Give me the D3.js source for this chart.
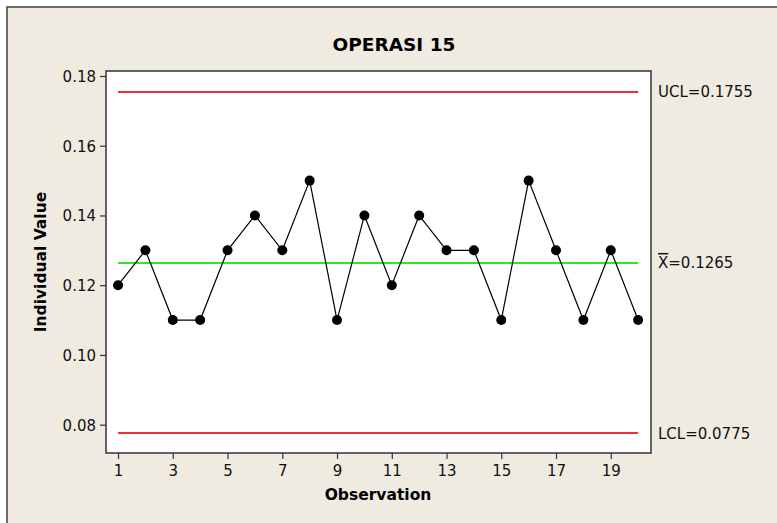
<!DOCTYPE html>
<html><head><meta charset="utf-8">
<script src="https://cdn.jsdelivr.net/npm/d3@7/dist/d3.min.js"></script>
<style>
html,body{margin:0;padding:0;background:#fff;}
svg{display:block;font-family:"DejaVu Sans",sans-serif;}
</style></head>
<body>
<svg id="c" width="777" height="523"></svg>
<script>
const observations = d3.range(1, 21);
const values = [0.12,0.13,0.11,0.11,0.13,0.14,0.13,0.15,0.11,0.14,0.12,0.14,0.13,0.13,0.11,0.15,0.13,0.11,0.13,0.11];
const xTicks = [1,3,5,7,9,11,13,15,17,19];
const yTicks = [0.08,0.10,0.12,0.14,0.16,0.18];
const UCL = 0.1755, CL = 0.1265, LCL = 0.0775;
const title = "OPERASI 15";

const svg = d3.select("#c");
const L = 106, R = 651, T = 71, B = 453;
const x = d3.scaleLinear().domain([0.56, 20.47]).range([L, R]);
const y = d3.scaleLinear().domain([0.07188, 0.18143]).range([B, T]);
const FONT = "DejaVu Sans, sans-serif";

// background panel
svg.append("rect").attr("x",7).attr("y",7).attr("width",800).attr("height",600)
  .attr("fill","#EFEBE1").attr("stroke","#404040").attr("stroke-width",1.5);
// plot area
svg.append("rect").attr("x",L).attr("y",T).attr("width",R-L).attr("height",B-T)
  .attr("fill","#fff").attr("stroke","#333").attr("stroke-width",1.5);

// axes
const yAxis = svg.append("g").attr("transform",`translate(${L},0)`)
  .call(d3.axisLeft(y).tickValues(yTicks).tickFormat(d3.format(".2f")).tickSize(6).tickSizeOuter(0));
const xAxis = svg.append("g").attr("transform",`translate(0,${B})`)
  .call(d3.axisBottom(x).tickValues(xTicks).tickFormat(d3.format("d")).tickSize(6).tickSizeOuter(0));
[yAxis, xAxis].forEach(g => {
  g.select(".domain").remove();
  g.selectAll("line").attr("stroke","#333").attr("stroke-width",1.2);
  g.selectAll("text").attr("fill","#111").style("font-size","15px").style("font-family",FONT);
});
yAxis.selectAll("text").attr("x",-10).attr("dy","0.36em");
xAxis.selectAll("text").attr("y",12).attr("dy","0.72em");

// control lines
const lines = [
  {v: UCL, c: "#EE3036"},
  {v: CL, c: "#2EE62E"},
  {v: LCL, c: "#EE3036"}
];
svg.selectAll(".cl").data(lines).enter().append("line")
  .attr("x1", x(1)).attr("x2", x(20))
  .attr("y1", d => Math.round(y(d.v))).attr("y2", d => Math.round(y(d.v)))
  .attr("stroke", d => d.c).attr("stroke-width", 2);

// data line
svg.append("path").datum(values)
  .attr("d", d3.line().x((d,i)=>x(observations[i])).y(d=>y(d)))
  .attr("fill","none").attr("stroke","#000").attr("stroke-width",1.2);
svg.selectAll(".pt").data(values).enter().append("circle")
  .attr("cx",(d,i)=>x(observations[i])).attr("cy",d=>y(d)).attr("r",5).attr("fill","#000");

// labels right
const lab = svg.append("g").style("font-size","15px").style("font-family",FONT).attr("fill","#111");
lab.append("text").attr("x",658).attr("y",y(UCL)).attr("dy","0.36em").text("UCL=" + UCL.toFixed(4));
lab.append("text").attr("x",658).attr("y",y(LCL)).attr("dy","0.36em").text("LCL=" + LCL.toFixed(4));
const xb = lab.append("text").attr("x",658).attr("y",y(CL)).attr("dy","0.36em");
xb.append("tspan").style("text-decoration","overline").text("X");
xb.append("tspan").text("=" + CL.toFixed(4));

// title and axis titles
svg.append("text").attr("x",394).attr("y",51).attr("text-anchor","middle")
  .style("font-size","18.5px").style("font-weight","bold").attr("fill","#000").text(title);
svg.append("text").attr("x",378).attr("y",500).attr("text-anchor","middle")
  .style("font-size","15.5px").style("font-weight","bold").attr("fill","#000").text("Observation");
svg.append("text").attr("transform",`translate(46,${(T+B)/2}) rotate(-90)`).attr("text-anchor","middle")
  .style("font-size","15.5px").style("font-weight","bold").attr("fill","#000").text("Individual Value");
</script>
</body></html>
